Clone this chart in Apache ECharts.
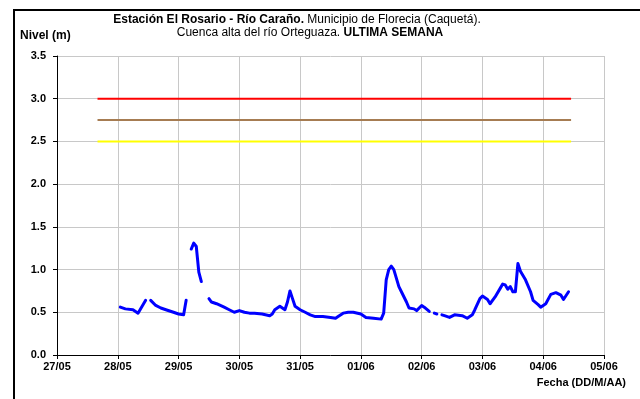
<!DOCTYPE html>
<html>
<head>
<meta charset="utf-8">
<script src="https://cdn.jsdelivr.net/npm/echarts@6/dist/echarts.min.js"></script>
<style>
  html, body { margin: 0; padding: 0; background: #fff; }
  #chart { width: 640px; height: 399px; }
</style>
</head>
<body>
<div id="chart"></div>
<script>
// Day ticks of the horizontal axis (DD/MM)
const dias = ['27/05', '28/05', '29/05', '30/05', '31/05', '01/06', '02/06', '03/06', '04/06', '05/06'];

// Level record: reading time (DD/MM HH:MM) and level in metres; null = no reading
const fechas = [
  '28/05 01:00', '28/05 03:00', '28/05 06:00', '28/05 08:00', '28/05 11:00', '28/05 12:00',
  '28/05 13:00', '28/05 15:00', '28/05 17:00', '28/05 19:00', '28/05 22:00', '29/05 00:00',
  '29/05 02:00', '29/05 03:00', '29/05 04:00',
  '29/05 05:00', '29/05 06:00', '29/05 07:00', '29/05 08:00', '29/05 09:00', '29/05 10:00',
  '29/05 12:00', '29/05 13:00', '29/05 15:00', '29/05 18:00', '29/05 20:00', '29/05 22:00',
  '30/05 00:00', '30/05 02:00', '30/05 04:00', '30/05 06:00', '30/05 09:00', '30/05 12:00',
  '30/05 13:00', '30/05 14:00', '30/05 16:00', '30/05 17:00', '30/05 18:00', '30/05 19:00',
  '30/05 20:00', '30/05 21:00', '30/05 22:00', '30/05 23:00',
  '31/05 00:00', '31/05 02:00', '31/05 04:00', '31/05 06:00', '31/05 09:00', '31/05 12:00',
  '31/05 14:00', '31/05 15:00', '31/05 17:00', '31/05 19:00', '31/05 21:00',
  '01/06 00:00', '01/06 02:00', '01/06 05:00', '01/06 08:00', '01/06 09:00', '01/06 10:00',
  '01/06 11:00', '01/06 12:00', '01/06 13:00', '01/06 15:00', '01/06 16:00', '01/06 18:00',
  '01/06 19:00', '01/06 21:00', '01/06 22:00',
  '02/06 00:00', '02/06 01:00', '02/06 03:00', '02/06 04:00', '02/06 05:00', '02/06 06:00',
  '02/06 07:00', '02/06 08:00', '02/06 09:00', '02/06 11:00', '02/06 13:00', '02/06 16:00',
  '02/06 18:00', '02/06 20:00', '02/06 21:00', '02/06 23:00',
  '03/06 00:00', '03/06 02:00', '03/06 03:00', '03/06 05:00', '03/06 07:00', '03/06 08:00',
  '03/06 09:00', '03/06 10:00', '03/06 11:00', '03/06 12:00', '03/06 13:00', '03/06 14:00',
  '03/06 15:00', '03/06 17:00', '03/06 19:00', '03/06 20:00', '03/06 22:00', '03/06 23:00',
  '04/06 01:00', '04/06 03:00', '04/06 05:00', '04/06 07:00', '04/06 08:00', '04/06 10:00'
];
const nivel = [
  0.56, 0.54, 0.53, 0.49, 0.64, null,
  0.64, 0.58, 0.55, 0.53, 0.50, 0.48,
  0.47, 0.64, null,
  1.24, 1.31, 1.27, 0.97, 0.86, null,
  0.66, 0.62, 0.60, 0.56, 0.53, 0.50,
  0.52, 0.50, 0.49, 0.49, 0.48, 0.46,
  0.48, 0.53, 0.57, 0.55, 0.53, 0.62,
  0.75, 0.66, 0.57, 0.55,
  0.53, 0.50, 0.47, 0.45, 0.45, 0.44,
  0.43, 0.45, 0.49, 0.50, 0.50,
  0.48, 0.44, 0.43, 0.42, 0.49, 0.88,
  1.00, 1.04, 1.00, 0.80, 0.74, 0.62,
  0.55, 0.54, 0.52,
  0.58, 0.56, 0.51, null, 0.49, 0.48,
  null, 0.47, 0.46, 0.44, 0.47, 0.46,
  0.43, 0.47, 0.53, 0.66,
  0.69, 0.65, 0.60, 0.68, 0.78, 0.83,
  0.82, 0.77, 0.80, 0.74, 0.74, 1.07,
  0.98, 0.88, 0.74, 0.64, 0.59, 0.56,
  0.60, 0.71, 0.73, 0.70, 0.65, 0.74
];

// Alert thresholds (m) and the period they are drawn over
const umbralPeriodo = ['27/05 16:00', '04/06 11:00'];
const umbralRojo = 3.0;
const umbralNaranja = 2.75;
const umbralAmarillo = 2.5;

// Y axis ticks
const nivelMin = 0, nivelMax = 3.5, nivelPaso = 0.5;

// 'DD/MM HH:MM' -> hours since the first day tick
function aHoras(s) {
  const [d, t] = s.split(' ');
  const [hh, mm] = t.split(':').map(Number);
  return dias.indexOf(d) * 24 + hh + mm / 60;
}

const serieNivel = fechas.map((f, i) => [aHoras(f), nivel[i] === null ? '-' : nivel[i]]);
const umbral = v => umbralPeriodo.map(f => [aHoras(f), v]);

const FONT = '"Liberation Sans", Arial, sans-serif';
const chart = echarts.init(document.getElementById('chart'), null, { renderer: 'canvas' });

chart.setOption({
  animation: false,
  backgroundColor: '#ffffff',
  grid: { left: 57, right: 36, top: 56, bottom: 44, containLabel: false },
  xAxis: {
    type: 'value',
    min: 0,
    max: (dias.length - 1) * 24,
    interval: 24,
    axisLine: { show: true, onZero: false, lineStyle: { color: '#000', width: 1 } },
    axisTick: { show: true, length: 4, lineStyle: { color: '#000' } },
    axisLabel: {
      formatter: v => dias[Math.round(v / 24)],
      color: '#000', fontFamily: FONT, fontWeight: 'bold', fontSize: 11, margin: 6
    },
    splitLine: { show: true, lineStyle: { color: '#c8c8c8', width: 1 } }
  },
  yAxis: {
    type: 'value',
    min: nivelMin,
    max: nivelMax,
    interval: nivelPaso,
    axisLine: { show: true, lineStyle: { color: '#000', width: 1 } },
    axisTick: { show: true, length: 4, lineStyle: { color: '#000' } },
    axisLabel: {
      formatter: v => v.toFixed(1),
      color: '#000', fontFamily: FONT, fontWeight: 'bold', fontSize: 11, margin: 11
    },
    splitLine: { show: true, lineStyle: { color: '#c8c8c8', width: 1 } }
  },
  series: [
    {
      name: 'Umbral rojo', type: 'line', data: umbral(umbralRojo), symbol: 'none',
      lineStyle: { color: '#ff0000', width: 2 }, silent: true
    },
    {
      name: 'Umbral naranja', type: 'line', data: umbral(umbralNaranja), symbol: 'none',
      lineStyle: { color: '#a67c52', width: 2 }, silent: true
    },
    {
      name: 'Umbral amarillo', type: 'line', data: umbral(umbralAmarillo), symbol: 'none',
      lineStyle: { color: '#ffff00', width: 2 }, silent: true
    },
    {
      name: 'Nivel', type: 'line', data: serieNivel, symbol: 'none', connectNulls: false,
      lineStyle: { color: '#0000ff', width: 3, cap: 'round', join: 'round' }
    }
  ],
  graphic: [
    // outer frame (left and top edges)
    { type: 'line', shape: { x1: 14, y1: 10, x2: 14, y2: 399 }, style: { stroke: '#000', lineWidth: 2 } },
    { type: 'line', shape: { x1: 13, y1: 10, x2: 640, y2: 10 }, style: { stroke: '#000', lineWidth: 2 } },
    {
      type: 'text', x: 297, y: 20,
      style: {
        text: '{b|Estación El Rosario - Río Caraño.}{n| Municipio de Florecia (Caquetá).}',
        align: 'center', verticalAlign: 'middle',
        rich: {
          b: { fontFamily: FONT, fontSize: 12, fontWeight: 'bold', fill: '#000' },
          n: { fontFamily: FONT, fontSize: 12, fill: '#000' }
        }
      }
    },
    {
      type: 'text', x: 310, y: 33,
      style: {
        text: '{n|Cuenca alta del río Orteguaza. }{b|ULTIMA SEMANA}',
        align: 'center', verticalAlign: 'middle',
        rich: {
          b: { fontFamily: FONT, fontSize: 12, fontWeight: 'bold', fill: '#000' },
          n: { fontFamily: FONT, fontSize: 12, fill: '#000' }
        }
      }
    },
    {
      type: 'text', x: 20, y: 36,
      style: { text: 'Nivel (m)', font: 'bold 12px ' + FONT, fill: '#000', verticalAlign: 'middle' }
    },
    {
      type: 'text', x: 626, y: 383,
      style: { text: 'Fecha (DD/M/AA)', font: 'bold 11px ' + FONT, fill: '#000', align: 'right', verticalAlign: 'middle' }
    }
  ]
});
</script>
</body>
</html>
